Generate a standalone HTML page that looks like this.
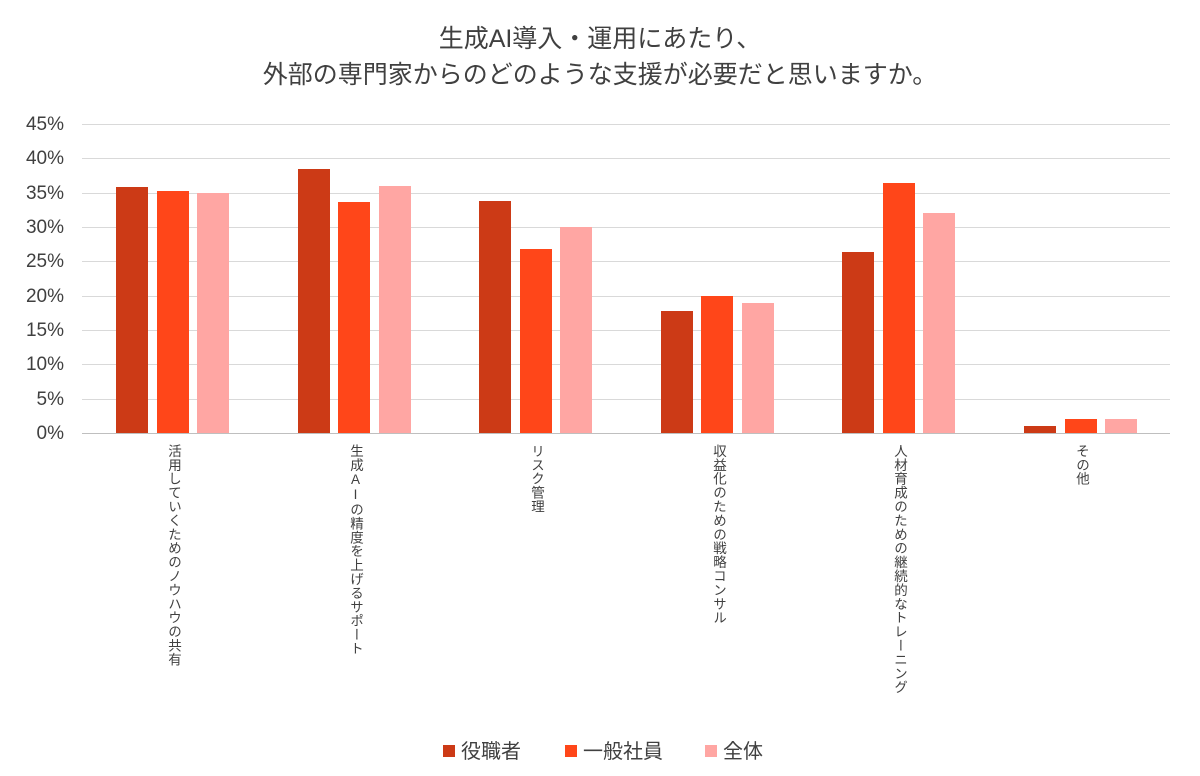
<!DOCTYPE html>
<html><head><meta charset="utf-8"><style>
body{margin:0;background:#fff;width:1200px;height:776px;overflow:hidden;position:relative;font-family:"Liberation Sans","Noto Sans CJK JP",sans-serif;color:#333}
.t{position:absolute;left:0;width:1200px;text-align:center;font-size:25px;color:#404040;line-height:34px}
.grid{position:absolute;left:82px;width:1088px;height:1px;background:#d9d9d9}
.yl{position:absolute;left:0;width:64px;text-align:right;font-size:19px;color:#404040}
.bar{position:absolute;width:32px}
.xl{position:absolute;top:444px;writing-mode:vertical-rl;text-orientation:upright;font-size:13.5px;color:#404040;line-height:14px;white-space:nowrap;letter-spacing:0.4px}
.lg{position:absolute;top:735px;font-size:20px;color:#404040}
.lg i{display:inline-block;width:12px;height:12px;margin-right:6px;vertical-align:1px}
</style></head><body>
<div class="t" style="top:22px">生成AI導入・運用にあたり、</div>
<div class="t" style="top:58px">外部の専門家からのどのような支援が必要だと思いますか。</div>
<div id="c"></div>
<div class="lg" style="left:443px"><i style="background:#CC3A16"></i>役職者</div>
<div class="lg" style="left:565px"><i style="background:#FF4619"></i>一般社員</div>
<div class="lg" style="left:705px"><i style="background:#FFA6A3"></i>全体</div>
<script>
var c=document.getElementById('c'),h='';
var y0=433,px=309/45;
for(var i=0;i<=9;i++){var y=y0-i*5*px;h+='<div class="grid" style="top:'+Math.round(y)+'px;'+(i==0?'background:#bfbfbf':'')+'"></div><div class="yl" style="top:'+Math.round(y-10)+'px">'+(i*5)+'%</div>';}
var d=[[35.8,35.2,35.0],[38.5,33.6,36.0],[33.8,26.8,30.0],[17.8,20.0,19.0],[26.4,36.4,32.0],[1.0,2.0,2.0]];
var cols=['#CC3A16','#FF4619','#FFA6A3'];
var labs=['活用していくためのノウハウの共有','生成AIの精度を上げるサポート','リスク管理','収益化のための戦略コンサル','人材育成のための継続的なトレーニング','その他'];
for(var g=0;g<6;g++){var x=116+g*181.6;
for(var k=0;k<3;k++){var hh=d[g][k]*px;h+='<div class="bar" style="left:'+Math.round(x+k*40.5)+'px;top:'+Math.round(y0-hh)+'px;height:'+Math.round(hh)+'px;background:'+cols[k]+'"></div>';}
h+='<div class="xl" style="left:'+Math.round(x+50)+'px">'+labs[g]+'</div>';}
c.innerHTML=h;
</script>
</body></html>
